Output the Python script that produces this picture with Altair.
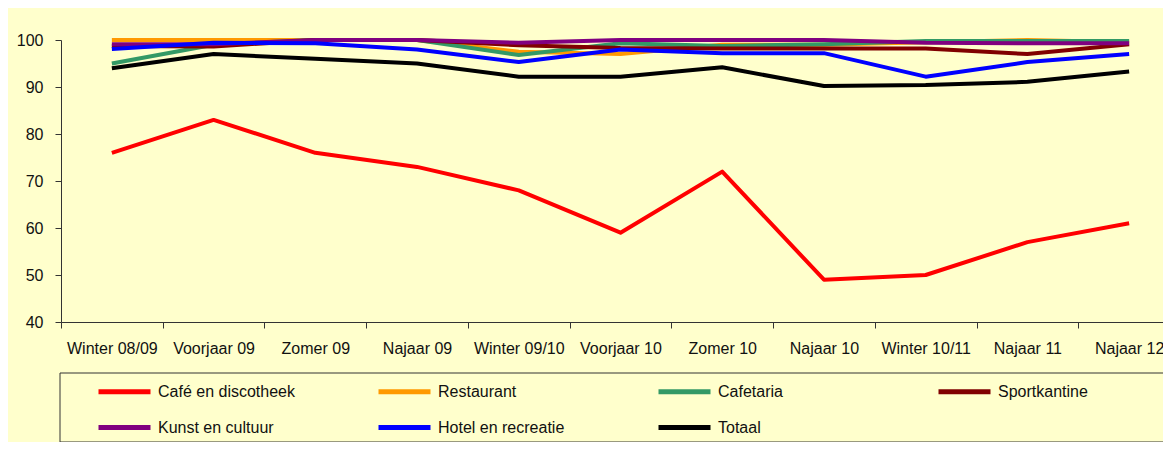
import altair as alt
import pandas as pd

periods = ["Winter 08/09", "Voorjaar 09", "Zomer 09", "Najaar 09", "Winter 09/10",
           "Voorjaar 10", "Zomer 10", "Najaar 10", "Winter 10/11", "Najaar 11", "Najaar 12"]
series_names = ["Café en discotheek", "Restaurant", "Cafetaria", "Sportkantine",
                "Kunst en cultuur", "Hotel en recreatie", "Totaal"]
series_colors = ["#FF0000", "#FF9900", "#339966", "#800000", "#800080", "#0000FF", "#000000"]

cafe = [76, 83, 76, 73, 68, 59, 72, 49, 50, 57, 61]
restaurant = [100, 100, 100, 100, 97.5, 97, 99, 99, 99.5, 100, 99.5]
cafetaria = [95, 99, 100, 100, 96.8, 99.3, 98.7, 99.1, 99.8, 99.8, 99.8]
sportkantine = [98.7, 98.6, 100, 100, 98.9, 98.3, 98.2, 98.2, 98.2, 97, 99.1]
kunst = [99.1, 99.1, 100, 100, 99.4, 100, 100, 100, 99.4, 99.3, 99.3]
hotel = [98.1, 99.4, 99.3, 98, 95.3, 98, 97.2, 97.2, 92.2, 95.3, 97]
totaal = [94, 97, 96, 95, 92.2, 92.2, 94.2, 90.2, 90.4, 91.1, 93.3]

values = [cafe, restaurant, cafetaria, sportkantine, kunst, hotel, totaal]
rows = []
for si, (name, vals) in enumerate(zip(series_names, values)):
    for pi, (p, v) in enumerate(zip(periods, vals)):
        rows.append({"periode": p, "soort": name, "pct": v, "ord": si})
df = pd.DataFrame(rows)

FONT = "Liberation Sans"

lines = alt.Chart(df).mark_line(strokeWidth=4, strokeJoin="round").encode(
    x=alt.X("periode:N", sort=periods, title=None,
            scale=alt.Scale(range=[0, 1119], paddingInner=0, paddingOuter=0),
            axis=alt.Axis(labelAngle=0, tickBand="extent", labelFontSize=16,
                          labelPadding=12, tickSize=6, domainColor="#333333",
                          tickColor="#333333", labelColor="#111111")),
    y=alt.Y("pct:Q", title=None,
            scale=alt.Scale(domain=[40, 100], nice=False, zero=False),
            axis=alt.Axis(values=[40, 50, 60, 70, 80, 90, 100], grid=False,
                          labelFontSize=16, labelPadding=12, tickSize=6,
                          domainColor="#333333", tickColor="#333333",
                          labelColor="#111111")),
    color=alt.Color("soort:N", sort=series_names,
                    scale=alt.Scale(domain=series_names, range=series_colors),
                    legend=alt.Legend(orient="none", legendX=35, legendY=331,
                                      direction="horizontal",
                                      columns=4, title=None,
                                      symbolType="M-1,0H1.889",
                                      symbolSize=1296, symbolStrokeWidth=5,
                                      labelFontSize=16, labelFont=FONT,
                                      labelColor="#111111", labelOffset=21,
                                      rowPadding=5, columnPadding=73,
                                      gridAlign="all", padding=0)),
    detail="soort:N",
    order=alt.Order("ord:Q"),
)

box = alt.Chart(alt.Data(values=[{}])).mark_rect(
    fill=None, stroke="#333333", strokeWidth=1
).encode(
    x=alt.value(-1), x2=alt.value(1106), y=alt.value(333), y2=alt.value(402)
)

chart = alt.layer(box, lines).properties(
    width=1102, height=282,
    background="#FFFFCC",
    autosize=alt.AutoSizeParams(type="none"),
    padding={"left": 53, "top": 32, "right": 0, "bottom": 120},
).configure_view(stroke=None).configure_axis(labelFont=FONT)

chart.save("out.html", embed_options={"renderer": "svg", "actions": False})
